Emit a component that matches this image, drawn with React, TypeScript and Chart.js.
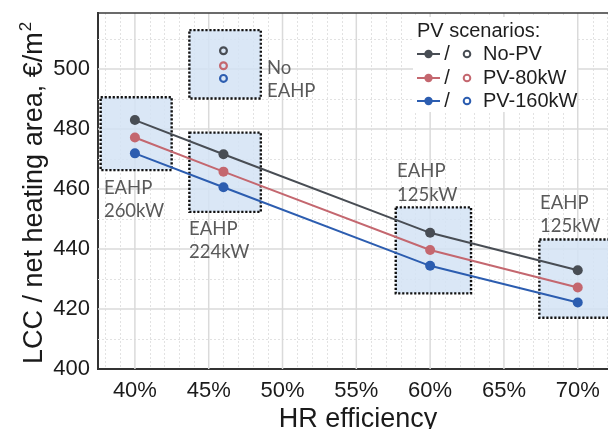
import React, { useEffect, useRef } from "react";
import { Chart, registerables } from "chart.js";

Chart.register(...registerables);

// ---- data ----
const hrEfficiency = [40, 46, 60, 70];
const lccNoPV = [483, 471.6, 445.4, 432.9];
const lccPV80 = [477.2, 465.8, 439.7, 427.2];
const lccPV160 = [471.9, 460.6, 434.4, 422.2];
const noEahpX = 46;
const noEahpNoPV = 506.1;
const noEahpPV80 = 501.1;
const noEahpPV160 = 496.9;

const seriesNames = ["No-PV", "PV-80kW", "PV-160kW"];
const seriesColors = ["#484d54", "#c4676f", "#2c5db0"];

const xTicks = [40, 45, 50, 55, 60, 65, 70];
const xMinorTicks = [38, 39, 41, 42, 43, 44, 46, 47, 48, 49, 51, 52, 53, 54, 56, 57, 58, 59, 61, 62, 63, 64, 66, 67, 68, 69, 71, 72];
const yTicks = [400, 420, 440, 460, 480, 500];
const yMajorGrid = [420, 440, 460, 480, 500];
const yMinorGrid = [410, 430, 450, 470, 490, 510];

// annotation boxes: [xMin, xMax, yMin, yMax]
const boxXMin = [37.68, 43.69, 43.69, 57.67, 67.4];
const boxXMax = [42.49, 48.53, 48.53, 62.77, 74];
const boxYMin = [466.3, 490.2, 452.4, 425.2, 417.1];
const boxYMax = [490.6, 513, 478.8, 453.9, 443.2];

// annotation labels
const labelLine1 = ["EAHP", "EAHP", "No", "EAHP", "EAHP"];
const labelLine2 = ["260kW", "224kW", "EAHP", "125kW", "125kW"];
const labelX = [37.9, 43.67, 48.95, 57.76, 67.45];
const labelY = [460.5, 446.7, 500.5, 466, 455.5];

const X_MIN = 37.5;
const X_MAX = 72.05;
const Y_MIN = 400;
const Y_MAX = 518.7;

const decorPlugin = {
  id: "decor",
  beforeDatasetsDraw(chart: any) {
    const { ctx, chartArea } = chart;
    const xs = chart.scales.x;
    const ys = chart.scales.y;
    ctx.save();
    // minor grid dotted
    ctx.strokeStyle = "#e2e2e2";
    ctx.lineWidth = 1;
    ctx.setLineDash([2, 2]);
    xMinorTicks.forEach((v) => {
      const px = Math.round(xs.getPixelForValue(v)) + 0.5;
      ctx.beginPath();
      ctx.moveTo(px, chartArea.top);
      ctx.lineTo(px, chartArea.bottom);
      ctx.stroke();
    });
    yMinorGrid.forEach((v) => {
      const py = Math.round(ys.getPixelForValue(v)) + 0.5;
      ctx.beginPath();
      ctx.moveTo(chartArea.left, py);
      ctx.lineTo(chartArea.right, py);
      ctx.stroke();
    });
    // major grid solid
    ctx.setLineDash([]);
    ctx.strokeStyle = "#dadada";
    ctx.lineWidth = 1.5;
    xTicks.forEach((v) => {
      const px = xs.getPixelForValue(v);
      ctx.beginPath();
      ctx.moveTo(px, chartArea.top);
      ctx.lineTo(px, chartArea.bottom);
      ctx.stroke();
    });
    yMajorGrid.forEach((v) => {
      const py = ys.getPixelForValue(v);
      ctx.beginPath();
      ctx.moveTo(chartArea.left, py);
      ctx.lineTo(chartArea.right, py);
      ctx.stroke();
    });
    // boxes
    for (let i = 0; i < boxXMin.length; i++) {
      const x0 = xs.getPixelForValue(boxXMin[i]);
      const x1 = xs.getPixelForValue(boxXMax[i]);
      const y0 = ys.getPixelForValue(boxYMax[i]);
      const y1 = ys.getPixelForValue(boxYMin[i]);
      ctx.fillStyle = "rgba(211,227,245,0.85)";
      ctx.fillRect(x0, y0, x1 - x0, y1 - y0);
      ctx.strokeStyle = "#111";
      ctx.lineWidth = 2.4;
      ctx.setLineDash([2.2, 1.8]);
      ctx.strokeRect(x0, y0, x1 - x0, y1 - y0);
    }
    ctx.restore();
  },
  afterDraw(chart: any) {
    const { ctx, chartArea } = chart;
    const xs = chart.scales.x;
    const ys = chart.scales.y;
    ctx.save();
    // top border
    ctx.strokeStyle = "#3a3a3a";
    ctx.lineWidth = 1.6;
    ctx.beginPath();
    ctx.moveTo(chartArea.left - 1, chartArea.top);
    ctx.lineTo(chartArea.right, chartArea.top);
    ctx.stroke();

    // annotation labels
    ctx.fillStyle = "#595959";
    ctx.font = "18.5px Lato, 'Open Sans', sans-serif";
    ctx.textAlign = "left";
    ctx.textBaseline = "middle";
    for (let i = 0; i < labelLine1.length; i++) {
      const px = xs.getPixelForValue(labelX[i]);
      const py = ys.getPixelForValue(labelY[i]);
      ctx.fillText(labelLine1[i], px, py);
      ctx.fillText(labelLine2[i], px, py + 23.5);
    }

    // legend
    const lx = 413;
    const ly = 17;
    ctx.fillStyle = "#ffffff";
    ctx.fillRect(lx, ly, 164, 95);
    ctx.fillStyle = "#1e1e1e";
    ctx.font = "20px 'Liberation Sans', Arial, sans-serif";
    ctx.textBaseline = "middle";
    ctx.fillText("PV scenarios:", 417, 31);
    const rowY = [54, 78, 101];
    for (let i = 0; i < seriesNames.length; i++) {
      const y = rowY[i];
      ctx.strokeStyle = seriesColors[i];
      ctx.lineWidth = 2;
      ctx.beginPath();
      ctx.moveTo(417, y);
      ctx.lineTo(440, y);
      ctx.stroke();
      ctx.fillStyle = seriesColors[i];
      ctx.beginPath();
      ctx.arc(428.5, y, 4.2, 0, Math.PI * 2);
      ctx.fill();
      ctx.fillStyle = "#1e1e1e";
      ctx.textAlign = "center";
      ctx.fillText("/", 447, y);
      ctx.beginPath();
      ctx.arc(467, y, 3.3, 0, Math.PI * 2);
      ctx.lineWidth = 2;
      ctx.stroke();
      ctx.textAlign = "left";
      ctx.fillStyle = "#1e1e1e";
      ctx.fillText(seriesNames[i], 483, y);
    }

    // axis titles
    ctx.fillStyle = "#1a1a1a";
    ctx.font = "27px 'Liberation Sans', Arial, sans-serif";
    ctx.textAlign = "center";
    ctx.textBaseline = "alphabetic";
    ctx.fillText("HR efficiency", 358, 427);

    ctx.save();
    ctx.translate(42, 364);
    ctx.rotate(-Math.PI / 2);
    ctx.textAlign = "left";
    const main = "LCC / net heating area, \u20AC/m";
    ctx.fillText(main, 0, 0);
    const w = ctx.measureText(main).width;
    ctx.font = "17px 'Liberation Sans', Arial, sans-serif";
    ctx.fillText("2", w + 1, -11);
    ctx.restore();

    ctx.restore();
  },
};

export default function App() {
  const canvasRef = useRef<HTMLCanvasElement | null>(null);

  useEffect(() => {
    if (!canvasRef.current) return;
    const mk = (ys: number[]) => hrEfficiency.map((x, i) => ({ x, y: ys[i] }));
    const chart = new Chart(canvasRef.current, {
      type: "line",
      data: {
        datasets: [
          {
            label: seriesNames[0],
            data: mk(lccNoPV),
            borderColor: seriesColors[0],
            backgroundColor: seriesColors[0],
            borderWidth: 2,
            pointRadius: 5,
            pointBorderWidth: 0,
          },
          {
            label: seriesNames[1],
            data: mk(lccPV80),
            borderColor: seriesColors[1],
            backgroundColor: seriesColors[1],
            borderWidth: 2,
            pointRadius: 5,
            pointBorderWidth: 0,
          },
          {
            label: seriesNames[2],
            data: mk(lccPV160),
            borderColor: seriesColors[2],
            backgroundColor: seriesColors[2],
            borderWidth: 2,
            pointRadius: 5,
            pointBorderWidth: 0,
          },
          {
            label: "No EAHP",
            data: [
              { x: noEahpX, y: noEahpNoPV },
              { x: noEahpX, y: noEahpPV80 },
              { x: noEahpX, y: noEahpPV160 },
            ],
            showLine: false,
            pointRadius: 3.4,
            pointBorderWidth: 2.2,
            pointBackgroundColor: "rgba(0,0,0,0)",
            pointBorderColor: seriesColors,
          } as any,
        ],
      },
      options: {
        animation: false,
        responsive: false,
        maintainAspectRatio: false,
        layout: { autoPadding: false, padding: { top: 13, right: 0, left: 0, bottom: 0 } },
        plugins: { legend: { display: false }, tooltip: { enabled: false } },
        scales: {
          x: {
            type: "linear",
            min: X_MIN,
            max: X_MAX,
            afterBuildTicks: (scale: any) => {
              scale.ticks = xTicks.map((v) => ({ value: v }));
            },
            afterFit: (scale: any) => {
              scale.height = 60;
              scale.paddingLeft = 0;
              scale.paddingRight = 0;
            },
            grid: { display: false, drawTicks: false },
            border: { display: true, color: "#333333", width: 2 },
            ticks: {
              padding: 9,
              color: "#1a1a1a",
              font: { family: "'Liberation Sans', Arial, sans-serif", size: 22 },
              callback: (v: any) => `${v}%`,
              maxRotation: 0,
              autoSkip: false,
            },
          },
          y: {
            type: "linear",
            min: Y_MIN,
            max: Y_MAX,
            afterBuildTicks: (scale: any) => {
              scale.ticks = yTicks.map((v) => ({ value: v }));
            },
            afterFit: (scale: any) => {
              scale.width = 98;
              scale.paddingTop = 0;
              scale.paddingBottom = 0;
            },
            grid: { display: false, drawTicks: false },
            border: { display: true, color: "#333333", width: 2 },
            ticks: {
              padding: 8,
              color: "#1a1a1a",
              font: { family: "'Liberation Sans', Arial, sans-serif", size: 22 },
              autoSkip: false,
            },
          },
        },
      },
      plugins: [decorPlugin],
    });
    return () => chart.destroy();
  }, []);

  return (
    <div style={{ position: "fixed", left: 0, top: 0, width: 608, height: 429, background: "#fff" }}>
      <canvas ref={canvasRef} width={608} height={429} style={{ width: 608, height: 429, display: "block" }} />
    </div>
  );
}
